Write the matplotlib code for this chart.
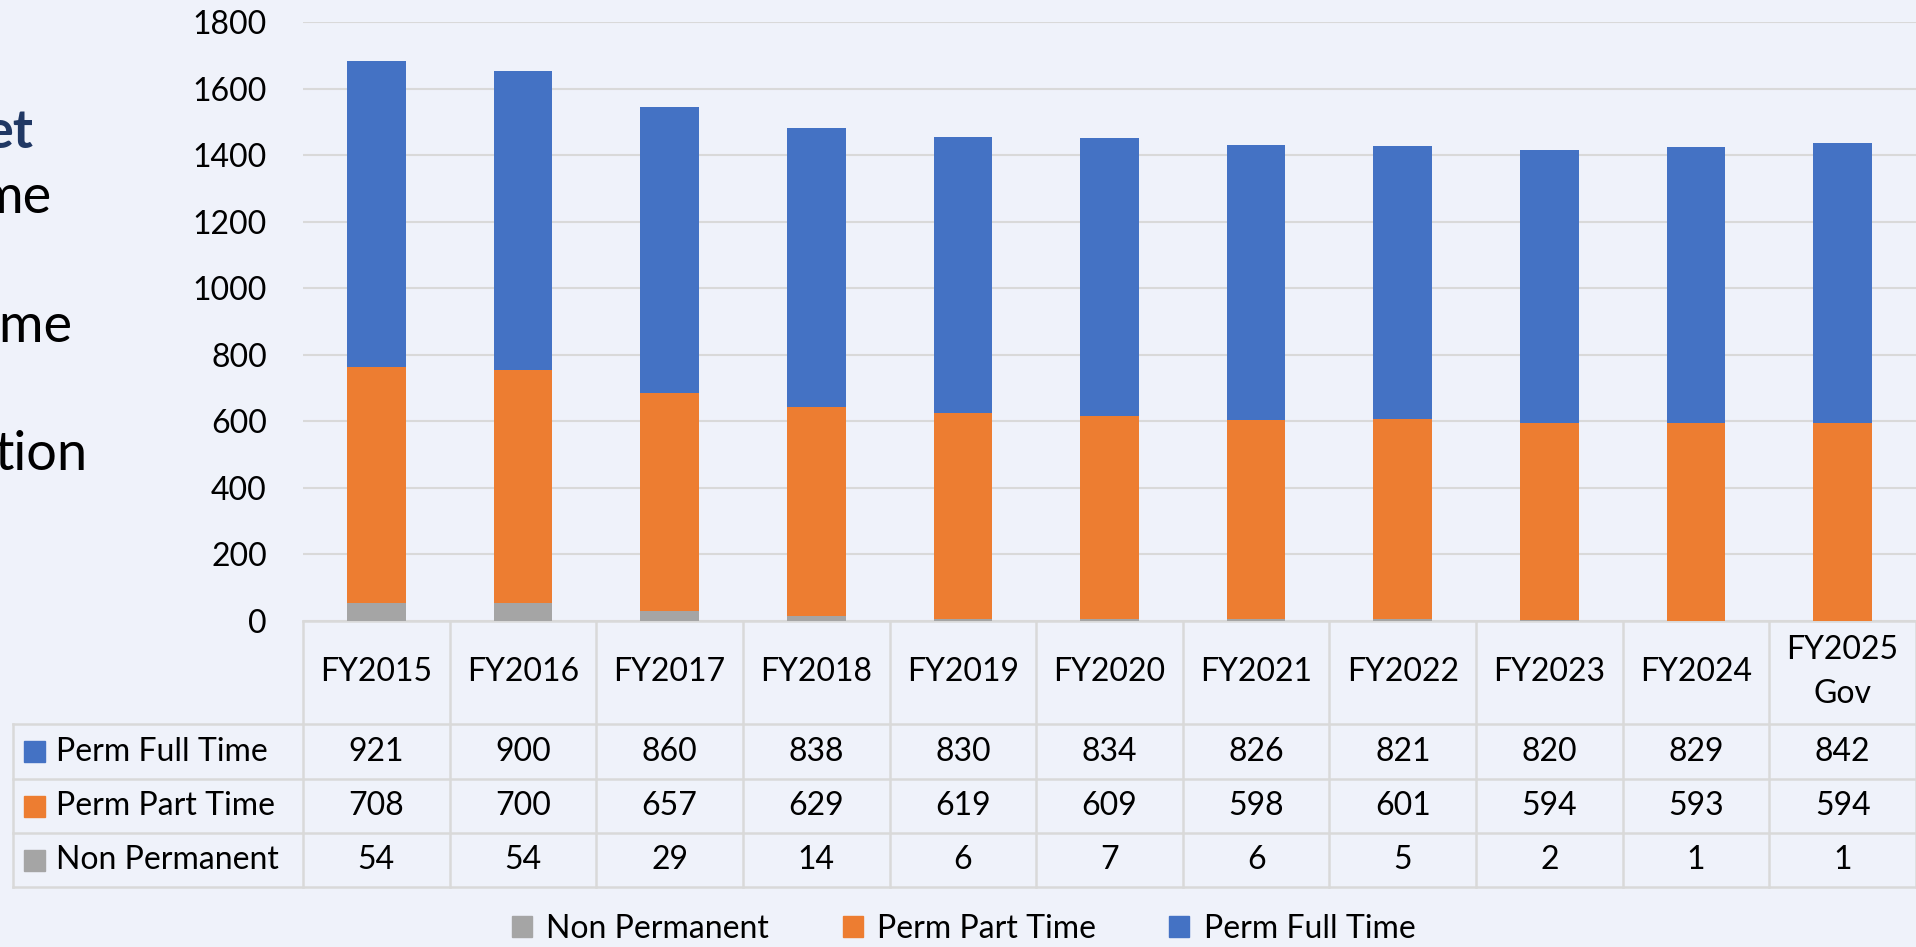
import numpy as np
import matplotlib
matplotlib.use("Agg")
import matplotlib.pyplot as plt
import matplotlib.transforms as mtransforms
from matplotlib.patches import Rectangle, Patch

years = ["FY2015", "FY2016", "FY2017", "FY2018", "FY2019", "FY2020",
         "FY2021", "FY2022", "FY2023", "FY2024", "FY2025\nGov"]
perm_full_time = [921, 900, 860, 838, 830, 834, 826, 821, 820, 829, 842]
perm_part_time = [708, 700, 657, 629, 619, 609, 598, 601, 594, 593, 594]
non_permanent = [54, 54, 29, 14, 6, 7, 6, 5, 2, 1, 1]

series_names = ["Perm Full Time", "Perm Part Time", "Non Permanent"]
series_values = [perm_full_time, perm_part_time, non_permanent]
series_colors = ["#4472C4", "#ED7D31", "#A5A5A5"]

left_fragments = ["et", "me", "ime", "tion"]

BG = "#EFF2FA"
GRID = "#D9D9D9"
W, H = 1916, 947
FS = 23

plt.rcParams["font.family"] = ["Lato", "DejaVu Sans"]


def fy(px):
    # pixel row (from top) -> figure fraction
    return 1 - px / H


def fx(px):
    return px / W


fig = plt.figure(figsize=(W / 100, H / 100), dpi=100, facecolor=BG)
ax = fig.add_axes([fx(303), fy(621), 1 - fx(303), fy(22) - fy(621)])
ax.set_facecolor(BG)

x = np.arange(len(years))
bw = 0.40
ax.bar(x, non_permanent, bw, color=series_colors[2], zorder=3)
ax.bar(x, perm_part_time, bw, bottom=non_permanent, color=series_colors[1], zorder=3)
ax.bar(x, perm_full_time, bw, bottom=np.add(non_permanent, perm_part_time),
       color=series_colors[0], zorder=3)

ax.set_xlim(-0.5, len(years) - 0.5)
ax.set_ylim(0, 1800)
ax.set_yticks(np.arange(0, 1801, 200))
ax.yaxis.grid(True, color=GRID, lw=1.5, zorder=0)
ax.set_xticks([])
ax.tick_params(axis="y", length=0, pad=26, labelsize=FS)
for s in ax.spines.values():
    s.set_visible(False)

# data table under the axes
tr = mtransforms.blended_transform_factory(ax.transData, fig.transFigure)
row_lines = [724, 779, 833, 887]
for i in range(len(years) + 1):
    ax.plot([i - 0.5, i - 0.5], [fy(621), fy(887)], transform=tr, color=GRID,
            lw=1.8, clip_on=False)
ax.plot([-0.5, len(years) - 0.5], [fy(621), fy(621)], transform=tr, color=GRID,
        lw=1.8, clip_on=False)
for r in row_lines:
    fig.add_artist(plt.Line2D([fx(13), 1], [fy(r), fy(r)], color=GRID, lw=1.8))
fig.add_artist(plt.Line2D([fx(13), fx(13)], [fy(724), fy(887)], color=GRID, lw=1.8))

for i, label in enumerate(years):
    ax.text(i, fy(672), label, transform=tr, ha="center", va="center",
            fontsize=FS, linespacing=1.55)

for r, (name, vals, col) in enumerate(zip(series_names, series_values, series_colors)):
    yc = (row_lines[r] + row_lines[r + 1]) / 2
    fig.add_artist(Rectangle((fx(24), fy(yc + 10.5)), fx(21), 21 / H,
                             transform=fig.transFigure, color=col))
    fig.text(fx(56), fy(yc), name, ha="left", va="center", fontsize=FS)
    for i, v in enumerate(vals):
        ax.text(i, fy(yc), str(v), transform=tr, ha="center", va="center",
                fontsize=FS)

# legend
handles = [Patch(color=series_colors[2], label=series_names[2]),
           Patch(color=series_colors[1], label=series_names[1]),
           Patch(color=series_colors[0], label=series_names[0])]
fig.legend(handles=handles, loc="center", bbox_to_anchor=(0.503, fy(929)),
           ncol=3, frameon=False, fontsize=FS, handlelength=0.62,
           handleheight=0.62, handletextpad=0.45, columnspacing=2.3)

# slide text on the left, clipped by the picture edge as in the original
frag_pos = [(33, 148), (51, 213), (72, 342), (88, 470)]
for k, (txt, (px, py)) in enumerate(zip(left_fragments, frag_pos)):
    if k == 0:
        fig.text(fx(px), fy(py), txt, ha="right", va="baseline", fontsize=39,
                 fontweight="bold", color="#203864")
    else:
        fig.text(fx(px), fy(py), txt, ha="right", va="baseline", fontsize=39,
                 color="black")

fig.savefig("out.png", dpi=100, facecolor=BG)
